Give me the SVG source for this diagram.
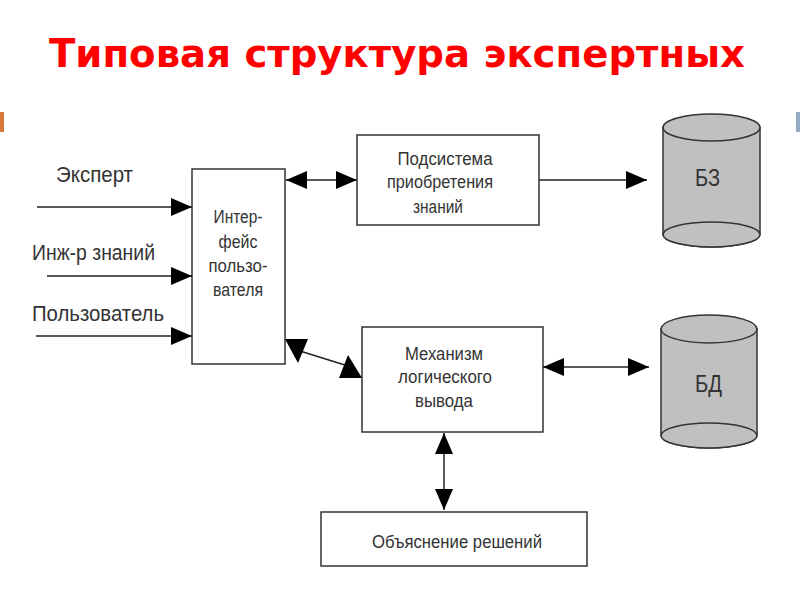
<svg xmlns="http://www.w3.org/2000/svg" width="800" height="600" viewBox="0 0 800 600">
<style>
.title{font-family:"DejaVu Sans","Liberation Sans",sans-serif;font-weight:bold;font-size:39px;fill:#ff0000}
.lbl{font-family:"Liberation Sans",Arial,sans-serif;fill:#333333}
.big{font-size:22px}
.box{font-size:17.5px;text-anchor:middle}
.db{font-size:24px}
.node{fill:#ffffff;stroke:#333333;stroke-width:1.5}
.cyl{fill:#c0c0c0;stroke:#333333;stroke-width:1.5}
.ln{stroke:#222222;stroke-width:1.5;fill:none}
.head{fill:#000000}
</style>
<defs>
<marker id="arr" markerUnits="userSpaceOnUse" markerWidth="21" markerHeight="18" viewBox="0 0 21 18" refX="21" refY="9" orient="auto-start-reverse">
<path d="M0,0 L21,9 L0,18 Z" fill="#000000"/>
</marker>
</defs>

<rect x="0" y="112" width="4" height="20" fill="#d9773a"/>
<rect x="796" y="112" width="4" height="20" fill="#95acc9"/>

<text class="title" x="49" y="67" textLength="696" lengthAdjust="spacingAndGlyphs">Типовая структура экспертных</text>

<g id="labels">
<text class="lbl big" x="56" y="182" textLength="77" lengthAdjust="spacingAndGlyphs">Эксперт</text>
<text class="lbl big" x="32" y="260" textLength="123" lengthAdjust="spacingAndGlyphs">Инж-р знаний</text>
<text class="lbl big" x="32" y="321" textLength="132" lengthAdjust="spacingAndGlyphs">Пользователь</text>
</g>

<g id="interface">
<rect class="node" x="192" y="169" width="93" height="195"/>
<text class="lbl box" x="238" y="223" textLength="49" lengthAdjust="spacingAndGlyphs">Интер-</text>
<text class="lbl box" x="238" y="248" textLength="39" lengthAdjust="spacingAndGlyphs">фейс</text>
<text class="lbl box" x="238" y="272" textLength="59" lengthAdjust="spacingAndGlyphs">пользо-</text>
<text class="lbl box" x="238" y="296" textLength="50" lengthAdjust="spacingAndGlyphs">вателя</text>
</g>

<g id="acquisition">
<rect class="node" x="357" y="135" width="182" height="90"/>
<text class="lbl box" x="445" y="165" textLength="95" lengthAdjust="spacingAndGlyphs">Подсистема</text>
<text class="lbl box" x="440" y="188" textLength="106" lengthAdjust="spacingAndGlyphs">приобретения</text>
<text class="lbl box" x="438" y="213" textLength="50" lengthAdjust="spacingAndGlyphs">знаний</text>
</g>

<g id="inference">
<rect class="node" x="362" y="327" width="181" height="105"/>
<text class="lbl box" x="444" y="360" textLength="78" lengthAdjust="spacingAndGlyphs">Механизм</text>
<text class="lbl box" x="445" y="383" textLength="94" lengthAdjust="spacingAndGlyphs">логического</text>
<text class="lbl box" x="444" y="407" textLength="58" lengthAdjust="spacingAndGlyphs">вывода</text>
</g>

<g id="explanation">
<rect class="node" x="321" y="512" width="266" height="54"/>
<text class="lbl box" x="457" y="548" textLength="170" lengthAdjust="spacingAndGlyphs">Объяснение решений</text>
</g>

<g id="kb">
<path class="cyl" d="M663,127.5 L663,234.5 A48.5,12.5 0 0 0 760,234.5 L760,127.5 Z"/>
<ellipse class="cyl" cx="711.5" cy="234.5" rx="48.5" ry="12.5"/>
<ellipse class="cyl" cx="711.5" cy="127.5" rx="48.5" ry="13.5"/>
<text class="lbl db" x="695" y="186" textLength="25" lengthAdjust="spacingAndGlyphs">БЗ</text>
</g>

<g id="db">
<path class="cyl" d="M661,329 L661,435.5 A48,12.5 0 0 0 757,435.5 L757,329 Z"/>
<ellipse class="cyl" cx="709" cy="435.5" rx="48" ry="12.5"/>
<ellipse class="cyl" cx="709" cy="329" rx="48" ry="14"/>
<text class="lbl db" x="695" y="392" textLength="27" lengthAdjust="spacingAndGlyphs">БД</text>
</g>

<g id="connectors">
<line class="ln" x1="37" y1="207" x2="192" y2="207" marker-end="url(#arr)"/>
<line class="ln" x1="47" y1="276" x2="192" y2="276" marker-end="url(#arr)"/>
<line class="ln" x1="36" y1="336" x2="192" y2="336" marker-end="url(#arr)"/>
<line class="ln" x1="286" y1="180" x2="357" y2="180" marker-start="url(#arr)" marker-end="url(#arr)"/>
<line class="ln" x1="539" y1="180" x2="647" y2="180" marker-end="url(#arr)"/>
<line class="ln" x1="543" y1="367" x2="649" y2="367" marker-start="url(#arr)" marker-end="url(#arr)"/>
<line class="ln" x1="444" y1="433" x2="444" y2="510" marker-start="url(#arr)" marker-end="url(#arr)"/>
<line class="ln" x1="300" y1="351" x2="348" y2="366"/>
<polygon class="head" points="285,339 308,339 298,363"/>
<polygon class="head" points="348,355 339,378 362,378"/>
</g>
</svg>
